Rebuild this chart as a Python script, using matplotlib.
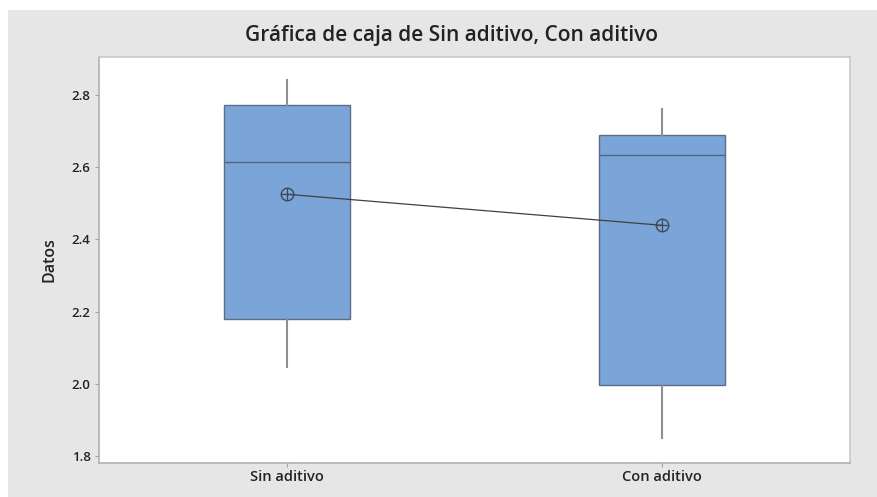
import matplotlib
matplotlib.use("Agg")
import matplotlib.pyplot as plt
from matplotlib.patches import Rectangle

categories = ["Sin aditivo", "Con aditivo"]
whisker_low = [2.048, 1.851]
q1 = [2.179, 1.996]
median = [2.614, 2.634]
q3 = [2.773, 2.689]
whisker_high = [2.840, 2.762]
means = [2.525, 2.439]
yticks = [1.8, 2.0, 2.2, 2.4, 2.6, 2.8]

plt.rcParams['font.family'] = ['Open Sans', 'DejaVu Sans']

W, H = 877, 497
fig = plt.figure(figsize=(W / 100, H / 100), dpi=100)
fig.patch.set_facecolor("white")
fig.patches.append(Rectangle((8 / W, 0), 1 - 8 / W, 1 - 10 / H, transform=fig.transFigure,
                             facecolor="#e6e6e6", edgecolor="none", zorder=-10))

ax = fig.add_axes([99 / W, 1 - 463 / H, (850 - 99) / W, (463 - 57) / H])
ax.set_facecolor("white")

stats = []
for i, c in enumerate(categories):
    stats.append(dict(label=c, whislo=whisker_low[i], q1=q1[i], med=median[i],
                      q3=q3[i], whishi=whisker_high[i], mean=means[i], fliers=[]))
positions = [1, 2]
ax.bxp(stats, positions=positions, widths=0.335, patch_artist=True, showmeans=False,
       showcaps=False,
       boxprops=dict(facecolor="#7ba5d8", edgecolor="#5a6e88", linewidth=1.0),
       medianprops=dict(color="#4f6583", linewidth=1.0),
       whiskerprops=dict(color="#8f8f8f", linewidth=1.5))

ax.plot(positions, means, color="#404040", linewidth=0.9, zorder=5)
ax.plot(positions, means, linestyle="none", marker="o", markersize=9,
        markerfacecolor="none", markeredgecolor="#404858", markeredgewidth=1.0, zorder=6)
ax.plot(positions, means, linestyle="none", marker="+", markersize=9,
        markeredgecolor="#404858", markeredgewidth=0.9, zorder=6)

ax.set_xlim(0.5, 2.5)
ax.set_ylim(1.781, 2.905)
ax.set_yticks(yticks)
ax.set_yticklabels([f"{v:.1f}" for v in yticks], fontsize=9.5, color="#222222",
                   fontweight="semibold")
ax.set_xticks(positions)
ax.set_xticklabels(categories, fontsize=10.5, color="#222222", fontweight="semibold")
ax.tick_params(axis="both", length=3, color="#a0a0a0", width=0.8)
ax.tick_params(axis="y", pad=3)
ax.tick_params(axis="x", pad=2)
ax.set_ylabel("Datos", fontsize=11.5, color="#222222", labelpad=10, fontweight="semibold")
for s in ["left", "bottom", "top", "right"]:
    ax.spines[s].set_color("#c8c8c8")
    ax.spines[s].set_linewidth(1.2)
ax.spines["left"].set_color("#b0b0b0")
ax.spines["bottom"].set_color("#b0b0b0")

fig.text(452 / W, 1 - 36 / H, "Gráfica de caja de Sin aditivo, Con aditivo",
         ha="center", va="center", fontsize=15, color="#222222", fontweight="semibold")

fig.savefig("out.png", dpi=100)
